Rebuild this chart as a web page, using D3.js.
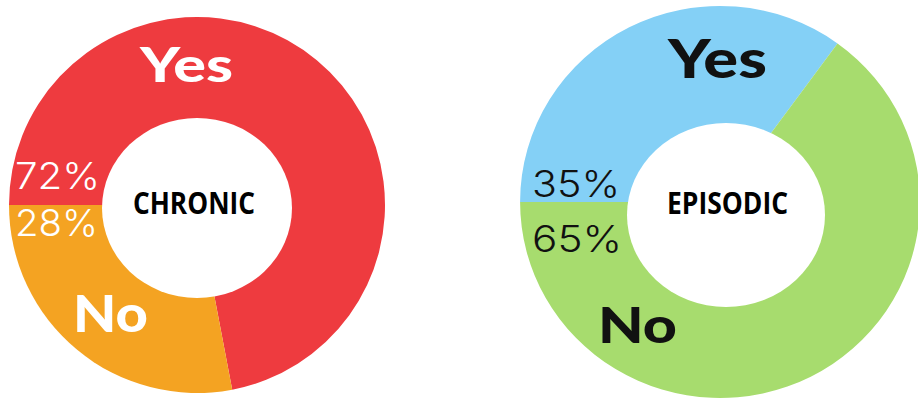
<!DOCTYPE html>
<html>
<head>
<meta charset="utf-8">
<script src="https://cdn.jsdelivr.net/npm/d3@7"></script>
<style>
  html, body { margin: 0; padding: 0; background: #fff; }
  svg { display: block; }
</style>
</head>
<body>
<svg id="chart" width="918" height="402"></svg>
<script>
// Survey answers per group
const groups = ["CHRONIC", "EPISODIC"];
const answers = ["Yes", "No"];
const chronicValues = [72, 28];
const episodicValues = [35, 65];

// Visual setup for each donut
const layouts = [
  {
    values: chronicValues,
    cx: 197, cy: 205, sx: 1.0, outer: 188,
    hole: { cx: 197, cy: 208, rx: 95, ry: 90 },
    colors: ["#ee3b3f", "#f4a322"],
    textColor: "#ffffff",
    names: [ { x: 140, y: 82, w: 93, size: 48 }, { x: 73, y: 332, w: 75, size: 51 } ],
    pcts:  [ { x: 15, y: 189, w: 85 }, { x: 15, y: 236, w: 83 } ],
    title: { x: 133, y: 214, w: 122 }
  },
  {
    values: episodicValues,
    cx: 720, cy: 202, sx: 1.02, outer: 196,
    hole: { cx: 726, cy: 215, rx: 99, ry: 92 },
    colors: ["#84d0f6", "#a7dc6e"],
    textColor: "#111111",
    names: [ { x: 668, y: 78, w: 99, size: 54 }, { x: 598, y: 343, w: 79, size: 50 } ],
    pcts:  [ { x: 532, y: 197, w: 88 }, { x: 532, y: 252, w: 90 } ],
    title: { x: 667, y: 214, w: 121 }
  }
];

const svg = d3.select("#chart");

// Slices start at 9 o'clock and run clockwise
const pie = d3.pie().sort(null).startAngle(-Math.PI / 2).endAngle(1.5 * Math.PI);

layouts.forEach((L, gi) => {
  const arc = d3.arc().innerRadius(0).outerRadius(L.outer);
  const color = d3.scaleOrdinal().domain(answers).range(L.colors);
  const data = pie.value(d => d)(L.values);

  svg.append("g")
    .attr("transform", `translate(${L.cx},${L.cy}) scale(${L.sx},1)`)
    .selectAll("path")
    .data(data)
    .join("path")
    .attr("d", arc)
    .attr("fill", (d, i) => color(answers[i]));

  // Donut hole (sits slightly below the pie centre)
  svg.append("ellipse")
    .attr("cx", L.hole.cx)
    .attr("cy", L.hole.cy)
    .attr("rx", L.hole.rx)
    .attr("ry", L.hole.ry)
    .attr("fill", "#fff");

  const labels = svg.append("g");

  // Answer names
  labels.selectAll("text.name")
    .data(answers)
    .join("text")
    .attr("class", "name")
    .attr("x", (d, i) => L.names[i].x)
    .attr("y", (d, i) => L.names[i].y)
    .attr("textLength", (d, i) => L.names[i].w)
    .attr("lengthAdjust", "spacingAndGlyphs")
    .attr("font-family", "Lato, Inter, 'Open Sans', sans-serif")
    .attr("font-weight", 900)
    .attr("font-size", (d, i) => L.names[i].size)
    .attr("fill", L.textColor)
    .text(d => d);

  // Percent values
  labels.selectAll("text.pct")
    .data(L.values)
    .join("text")
    .attr("class", "pct")
    .attr("x", (d, i) => L.pcts[i].x)
    .attr("y", (d, i) => L.pcts[i].y)
    .attr("textLength", (d, i) => L.pcts[i].w)
    .attr("lengthAdjust", "spacingAndGlyphs")
    .attr("font-family", "Inter, 'Open Sans', sans-serif")
    .attr("font-weight", 300)
    .attr("font-size", 37)
    .attr("fill", L.textColor)
    .text(d => d + "%");

  // Group title in the hole
  labels.append("text")
    .attr("x", L.title.x)
    .attr("y", L.title.y)
    .attr("textLength", L.title.w)
    .attr("lengthAdjust", "spacingAndGlyphs")
    .attr("font-family", "'Open Sans', 'Noto Sans', sans-serif")
    .attr("font-weight", 700)
    .attr("font-size", 31)
    .attr("fill", "#000")
    .text(groups[gi]);
});
</script>
</body>
</html>
